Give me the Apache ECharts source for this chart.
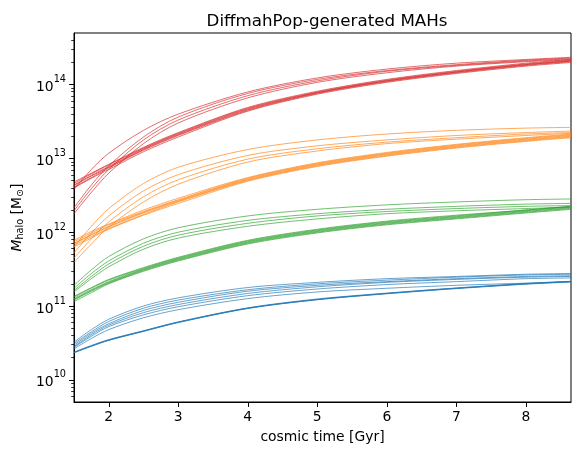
<!DOCTYPE html>
<html lang="en">
<head>
<meta charset="UTF-8">
<title>DiffmahPop-generated MAHs</title>
<script src="https://cdn.jsdelivr.net/npm/echarts@6.0.0/dist/echarts.min.js"></script>
<style>html, body { margin: 0; padding: 0; background: #fff; }</style>
</head>
<body>
<div id="main" style="width:579px;height:459px;"></div>
<script>
const tGyr = [1.5, 1.75, 2, 2.5, 3, 4, 5, 6, 7, 8, 8.65];

// log10(Mhalo / Msun) per curve, one array per population
const blueLogM = [
    [10.51, 10.68, 10.82, 11.00, 11.11, 11.25, 11.32, 11.37, 11.40, 11.43, 11.44],
    [10.49, 10.65, 10.79, 10.97, 11.08, 11.22, 11.30, 11.35, 11.39, 11.42, 11.43],
    [10.47, 10.63, 10.76, 10.94, 11.05, 11.20, 11.28, 11.33, 11.37, 11.40, 11.41],
    [10.45, 10.61, 10.74, 10.91, 11.02, 11.17, 11.26, 11.32, 11.36, 11.39, 11.40],
    [10.44, 10.59, 10.72, 10.88, 10.99, 11.14, 11.23, 11.29, 11.33, 11.37, 11.38],
    [10.42, 10.56, 10.68, 10.84, 10.95, 11.10, 11.19, 11.24, 11.28, 11.31, 11.33],
    [10.375, 10.465, 10.545, 10.665, 10.785, 10.975, 11.095, 11.175, 11.245, 11.305, 11.335],
    [10.37, 10.46, 10.54, 10.66, 10.78, 10.97, 11.09, 11.17, 11.24, 11.30, 11.33],
    [10.365, 10.455, 10.535, 10.655, 10.775, 10.965, 11.085, 11.165, 11.235, 11.295, 11.325],
    [10.37, 10.455, 10.535, 10.66, 10.78, 10.97, 11.085, 11.17, 11.24, 11.30, 11.33]
];
const orangeLogM = [
    [11.80, 12.08, 12.32, 12.66, 12.88, 13.12, 13.25, 13.33, 13.38, 13.41, 13.42],
    [11.72, 11.99, 12.22, 12.56, 12.78, 13.04, 13.17, 13.25, 13.31, 13.35, 13.37],
    [11.65, 11.91, 12.14, 12.48, 12.71, 12.99, 13.13, 13.22, 13.28, 13.33, 13.35],
    [11.59, 11.84, 12.07, 12.41, 12.65, 12.95, 13.10, 13.20, 13.26, 13.31, 13.34],
    [11.89, 12.01, 12.11, 12.30, 12.46, 12.74, 12.94, 13.08, 13.19, 13.28, 13.33],
    [11.87, 11.99, 12.10, 12.28, 12.44, 12.73, 12.93, 13.07, 13.18, 13.27, 13.32],
    [11.85, 11.97, 12.08, 12.27, 12.43, 12.72, 12.92, 13.06, 13.17, 13.26, 13.31],
    [11.84, 11.96, 12.07, 12.26, 12.42, 12.71, 12.91, 13.05, 13.16, 13.25, 13.30],
    [11.82, 11.94, 12.05, 12.24, 12.41, 12.70, 12.90, 13.04, 13.15, 13.24, 13.29],
    [11.80, 11.92, 12.04, 12.23, 12.39, 12.69, 12.89, 13.03, 13.14, 13.23, 13.28]
];
const greenLogM = [
    [11.28, 11.49, 11.67, 11.91, 12.06, 12.22, 12.31, 12.37, 12.41, 12.44, 12.45],
    [11.24, 11.44, 11.61, 11.85, 12.00, 12.16, 12.25, 12.31, 12.35, 12.38, 12.39],
    [11.21, 11.40, 11.57, 11.81, 11.96, 12.12, 12.22, 12.28, 12.32, 12.35, 12.36],
    [11.19, 11.37, 11.53, 11.77, 11.92, 12.08, 12.18, 12.25, 12.29, 12.32, 12.34],
    [11.13, 11.25, 11.36, 11.52, 11.66, 11.89, 12.04, 12.15, 12.23, 12.30, 12.35],
    [11.12, 11.24, 11.35, 11.51, 11.65, 11.88, 12.03, 12.14, 12.22, 12.30, 12.35],
    [11.10, 11.22, 11.33, 11.50, 11.64, 11.87, 12.02, 12.13, 12.21, 12.29, 12.34],
    [11.09, 11.21, 11.32, 11.49, 11.63, 11.86, 12.01, 12.12, 12.20, 12.28, 12.33],
    [11.08, 11.20, 11.31, 11.48, 11.62, 11.85, 12.00, 12.11, 12.19, 12.27, 12.32],
    [11.06, 11.18, 11.30, 11.47, 11.61, 11.84, 11.99, 12.10, 12.18, 12.26, 12.31]
];
const redLogM = [
    [12.58, 12.85, 13.07, 13.38, 13.60, 13.90, 14.09, 14.21, 14.29, 14.34, 14.37],
    [12.33, 12.64, 12.90, 13.29, 13.56, 13.88, 14.07, 14.19, 14.27, 14.33, 14.36],
    [12.29, 12.59, 12.85, 13.25, 13.52, 13.85, 14.05, 14.18, 14.26, 14.32, 14.35],
    [12.25, 12.54, 12.80, 13.20, 13.48, 13.82, 14.03, 14.16, 14.25, 14.31, 14.34],
    [12.68, 12.80, 12.92, 13.15, 13.35, 13.69, 13.91, 14.07, 14.19, 14.29, 14.34],
    [12.66, 12.79, 12.91, 13.14, 13.34, 13.68, 13.90, 14.06, 14.18, 14.28, 14.33],
    [12.64, 12.77, 12.89, 13.13, 13.33, 13.67, 13.89, 14.05, 14.17, 14.27, 14.32],
    [12.63, 12.76, 12.88, 13.12, 13.32, 13.66, 13.89, 14.05, 14.17, 14.27, 14.32],
    [12.61, 12.74, 12.87, 13.11, 13.31, 13.65, 13.88, 14.04, 14.16, 14.26, 14.31],
    [12.60, 12.73, 12.85, 13.09, 13.29, 13.64, 13.87, 14.03, 14.15, 14.25, 14.30]
];

const xTicks = [2, 3, 4, 5, 6, 7, 8];
const yDecades = [10, 11, 12, 13, 14];
const minorMult = [2, 3, 4, 5, 6, 7, 8, 9];
const xMin = 1.5, xMax = 8.65;
const yMin = 5e9, yMax = 5e14;

const groups = [
    { logM: blueLogM, color: '#1f77b4' },
    { logM: orangeLogM, color: '#ff7f0e' },
    { logM: greenLogM, color: '#2ca02c' },
    { logM: redLogM, color: '#d62728' }
];

// minor log ticks (2..9 x 10^n), placed on a log10-valued helper axis
const minorTicks = [];
[9].concat(yDecades).forEach(function (d) {
    minorMult.forEach(function (m) {
        const v = Math.log10(m) + d;
        if (v > Math.log10(yMin) && v < Math.log10(yMax)) minorTicks.push(v);
    });
});

const series = [];
groups.forEach(function (g) {
    g.logM.forEach(function (curve) {
        series.push({
            type: 'line',
            yAxisIndex: 0,
            data: tGyr.map(function (t, i) { return [t, Math.pow(10, curve[i])]; }),
            smooth: 0.3,
            showSymbol: false,
            silent: true,
            lineStyle: { color: g.color, width: 0.8, opacity: 0.85 }
        });
    });
});

const font = 'DejaVu Sans';
const option = {
    backgroundColor: '#fff',
    animation: false,
    title: {
        text: 'DiffmahPop-generated MAHs',
        left: 322, top: 8, textAlign: 'center',
        textStyle: { fontFamily: font, fontSize: 16.7, fontWeight: 'normal', color: '#000' }
    },
    grid: { left: 74, right: 8, top: 33, bottom: 57, show: true, borderColor: '#000', borderWidth: 1 },
    xAxis: {
        type: 'value', min: xMin, max: xMax,
        name: 'cosmic time [Gyr]', nameLocation: 'middle', nameGap: 28,
        nameTextStyle: { fontFamily: font, fontSize: 13.9, color: '#000' },
        axisLine: { show: true, lineStyle: { color: '#000', width: 1 } },
        axisTick: { show: true, length: 4.9, customValues: xTicks, lineStyle: { color: '#000', width: 1 } },
        axisLabel: { customValues: xTicks, margin: 8, fontFamily: font, fontSize: 13.9, color: '#000' },
        splitLine: { show: false }
    },
    yAxis: [
        { type: 'log', min: yMin, max: yMax, show: false },
        {
            type: 'value', min: Math.log10(yMin), max: Math.log10(yMax), position: 'left',
            name: '{i|M}{s|halo} [M{s|\u2299}]', nameLocation: 'middle', nameGap: 46, nameRotate: 90,
            nameTextStyle: {
                fontFamily: font, fontSize: 13.9, color: '#000',
                rich: {
                    i: { fontFamily: font, fontSize: 13.9, fontStyle: 'italic', color: '#000' },
                    s: { fontFamily: font, fontSize: 9.7, color: '#000', verticalAlign: 'bottom', padding: [6, 0, 0, 0] }
                }
            },
            axisLine: { show: true, lineStyle: { color: '#000', width: 1 } },
            axisTick: { show: true, length: 4.9, customValues: yDecades, lineStyle: { color: '#000', width: 1 } },
            axisLabel: {
                customValues: yDecades, margin: 8, color: '#000',
                formatter: function (v) { return '{b|10}{p|' + Math.round(v) + '}'; },
                rich: {
                    b: { fontFamily: font, fontSize: 13.9, color: '#000', padding: [6, 0, 0, 0] },
                    p: { fontFamily: font, fontSize: 9.7, color: '#000', verticalAlign: 'top' }
                }
            },
            splitLine: { show: false }
        },
        {
            type: 'value', min: Math.log10(yMin), max: Math.log10(yMax), position: 'left',
            axisLine: { show: false },
            axisTick: { show: true, length: 2.8, customValues: minorTicks, lineStyle: { color: '#000', width: 0.8 } },
            axisLabel: { show: false },
            splitLine: { show: false }
        }
    ],
    series: series
};

const chart = echarts.init(document.getElementById('main'), null, { renderer: 'canvas' });
chart.setOption(option);
</script>
</body>
</html>
